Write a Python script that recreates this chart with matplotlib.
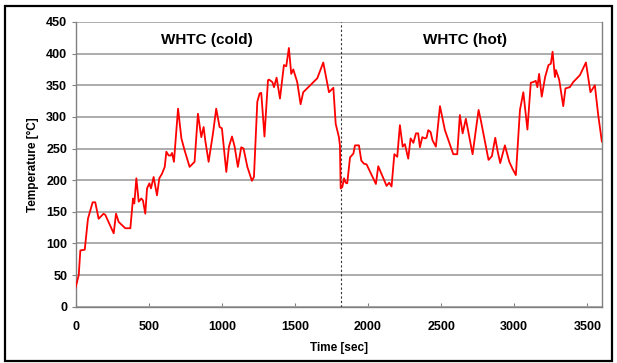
import matplotlib.pyplot as plt
from matplotlib.patches import Rectangle

plt.rcParams['font.family'] = ['Liberation Sans', 'DejaVu Sans']
plt.rcParams['font.weight'] = 'bold'

# Exhaust temperature over a cold + hot WHTC sequence
time_s = [0, 22, 33, 63, 85, 117, 135, 158, 192, 204, 261, 277, 295, 340, 375,
          393, 402, 416, 432, 450, 461, 477, 489, 505, 516, 534, 557, 573, 591,
          610, 621, 637, 651, 660, 673, 701, 724, 746, 780, 814, 837, 860, 876,
          887, 910, 940, 962, 985, 1001, 1031, 1049, 1070, 1088, 1110, 1133,
          1149, 1175, 1206, 1220, 1243, 1259, 1270, 1292, 1316, 1323, 1346,
          1357, 1375, 1398, 1425, 1441, 1459, 1475, 1489, 1516, 1539, 1557,
          1653, 1694, 1733, 1763, 1779, 1801, 1808, 1813, 1824, 1836, 1847,
          1858, 1877, 1900, 1911, 1938, 1954, 1972, 1990, 2054, 2070, 2127,
          2145, 2161, 2180, 2200, 2218, 2237, 2252, 2275, 2291, 2310, 2328,
          2343, 2355, 2371, 2389, 2400, 2412, 2428, 2441, 2464, 2492, 2526,
          2583, 2610, 2628, 2647, 2669, 2715, 2756, 2772, 2824, 2847, 2870,
          2886, 2904, 2936, 2966, 2988, 3011, 3039, 3062, 3090, 3113, 3129,
          3147, 3158, 3170, 3188, 3211, 3234, 3250, 3262, 3278, 3285, 3307,
          3335, 3350, 3380, 3403, 3449, 3490, 3521, 3551, 3574, 3599]
temp_c = [30, 50, 89, 90, 139, 165, 165, 139, 147, 145, 116, 147, 134, 124, 124,
          171, 163, 203, 166, 171, 168, 147, 187, 195, 187, 205, 176, 203, 210,
          221, 245, 239, 239, 243, 229, 313, 266, 247, 221, 229, 305, 268, 284,
          263, 229, 274, 313, 284, 282, 213, 253, 269, 253, 221, 252,
          250, 221, 199, 205, 324, 337, 338, 269, 358, 359, 355,
          347, 362, 329, 382, 380, 409, 368, 375, 355, 320, 339,
          361, 386, 339, 346, 289, 268, 255, 187, 189, 203, 196,
          195, 236, 242, 255, 255, 231, 226, 225, 194, 222, 191,
          196, 190, 241, 237, 287, 253, 257, 234, 266, 259, 274,
          274, 252, 268, 266, 267, 279, 276, 263, 253, 317, 279,
          241, 241, 303, 274, 297, 241, 311, 294, 232, 238, 267,
          246, 227, 255, 229, 218, 208, 311, 339, 280, 354, 355,
          357, 347, 368, 332, 363, 382, 384, 403, 363, 374, 359,
          317, 345, 347, 355, 366, 386, 339, 350, 303, 261]

phase_split = 1815
phase_labels = ['WHTC (cold)', 'WHTC (hot)']
phase_label_x = [900, 2665]

fig = plt.figure(figsize=(6.17, 3.63), dpi=100)
ax = fig.add_axes([0.1224, 0.1551, 0.8533, 0.7843])

ax.plot(time_s, temp_c, color='#ff0000', linewidth=1.3, zorder=3)
ax.axvline(phase_split, color='#333333', linewidth=0.8, linestyle=(0, (2, 2)), zorder=2)

for lx, txt in zip(phase_label_x, phase_labels):
    ax.text(lx, 421, txt, ha='center', va='center', fontsize=11, fontweight='bold')

ax.set_xlim(0, 3600)
ax.set_ylim(0, 450)
ax.set_xticks(range(0, 3600, 500))
ax.set_yticks(range(0, 451, 50))
ax.grid(axis='y', color='#a6a6a6', linewidth=1.3, zorder=1)
ax.set_axisbelow(True)

ax.spines['top'].set_visible(False)
for side in ['left', 'bottom', 'right']:
    ax.spines[side].set_color('#808080')
    ax.spines[side].set_linewidth(1.0)

ax.tick_params(axis='x', direction='in', length=3, color='#808080', labelsize=9, pad=10)
ax.tick_params(axis='y', direction='out', length=3, color='#808080', labelsize=9, pad=3)
for lab in ax.get_xticklabels() + ax.get_yticklabels():
    lab.set_fontweight('bold')

ax.set_xlabel('Time [sec]', fontsize=8.5, fontweight='bold', labelpad=7)
ax.set_ylabel('Temperature [°C]', fontsize=8.5, fontweight='bold', labelpad=5)

# black frame around the whole figure
fig.patches.append(Rectangle((5 / 617, 2 / 363), 607 / 617, 355 / 363,
                             transform=fig.transFigure, fill=False,
                             edgecolor='black', linewidth=1.6))

fig.savefig('out.png', dpi=100)
